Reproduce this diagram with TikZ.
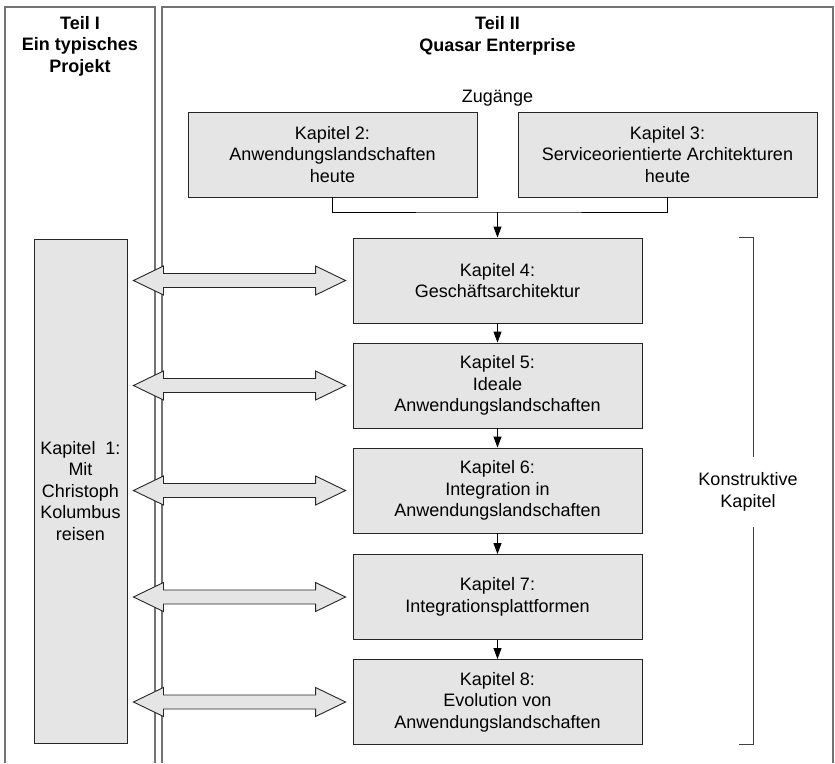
\documentclass[tikz,border=0pt]{standalone}
\usepackage{fontspec}
\setmainfont{Liberation Sans}
\usetikzlibrary{calc,arrows.meta}

\tikzset{
    kapitel/.style={draw=black!85, line width=0.9pt, fill=black!10, align=center,
        inner sep=0pt, minimum width=289pt, minimum height=85pt},
    rahmen/.style={draw=black!55, line width=1.2pt},
    titel/.style={font=\bfseries\fontsize{18}{21.5}\selectfont, align=center},
    fluss/.style={-{Triangle[length=11pt,width=8pt]}, line width=0.9pt},
    doppelpfeil/.style={draw=black!85, line width=0.9pt, fill=black!10, line join=miter},
    klammer/.style={draw=black!75, line width=1pt}
}

\begin{document}
\begin{tikzpicture}[x=1pt, y=-1pt, font=\fontsize{18}{21.5}\selectfont]
        \useasboundingbox (0,0) rectangle (835,763);

        % Rahmen der beiden Teile
        \draw [rahmen] (5,763) -- (5,7) -- (155,7) -- (155,763);
        \draw [rahmen] (162,763) -- (162,7) -- (833,7) -- (833,763);

        \node[titel](teil1) at (80,46) {Teil I\\Ein typisches\\Projekt};
        \node[titel](teil2) at (497.5,36) {Teil II\\Quasar Enterprise};
        \node(zugaenge) at (497.5,98) {Zugänge};

        % Kapitel
        \node[kapitel, minimum width=93pt, minimum height=504pt](k1) at (80.5,491)
            {Kapitel\ \ 1:\\Mit\\Christoph\\Kolumbus\\reisen};
        \node[kapitel](k2) at (332.5,154.5) {Kapitel 2:\\Anwendungslandschaften\\heute};
        \node[kapitel, minimum width=299pt](k3) at (667.5,154.5)
            {Kapitel 3:\\Serviceorientierte Architekturen\\heute};
        \node[kapitel](k4) at (497.5,280.5) {Kapitel 4:\\Geschäftsarchitektur};
        \node[kapitel](k5) at (497.5,385.5) {Kapitel 5:\\Ideale\\Anwendungslandschaften};
        \node[kapitel](k6) at (497.5,490.5) {Kapitel 6:\\Integration in\\Anwendungslandschaften};
        \node[kapitel](k7) at (497.5,597) {Kapitel 7:\\Integrationsplattformen};
        \node[kapitel](k8) at (497.5,702) {Kapitel 8:\\Evolution von\\Anwendungslandschaften};

        % Zugaenge
        \coordinate (zug) at (497.5,212);
        \draw [line width=0.9pt]
            (k2.south) |- (zug) -| (k3.south);
        \draw [fluss] (zug) -- (k4.north);
        \foreach \a/\b in {k4/k5, k5/k6, k6/k7, k7/k8}
            \draw [fluss] (\a) -- (\b);

        % Doppelpfeile zu Kapitel 1
        \foreach \k in {k4, k5, k6, k7, k8}
            \draw [doppelpfeil]
                ($(k1.east |- \k.west)+(6,0)$) coordinate (l) -- ++(30,-14.5) -- ++(0,7.5)
                -- ($(\k.west)+(-37,-7)$) -- ++(0,-7.5) -- ($(\k.west)+(-7,0)$)
                -- ++(-30,14.5) -- ++(0,-7.5) -- ($(l)+(30,7)$) -- ++(0,7.5) -- cycle;

        % Klammer
        \node[align=center, inner ysep=16pt](konstr) at (748,492) {Konstruktive\\Kapitel};
        \coordinate (klammer) at (753,0);
        \draw [klammer]
            ($(klammer |- k4.north)+(-14,0)$) -- (klammer |- k4.north) -- (klammer |- konstr.north);
        \draw [klammer]
            (klammer |- konstr.south) -- (klammer |- k8.south) -- ++(-14,0);

    \end{tikzpicture}
\end{document}
